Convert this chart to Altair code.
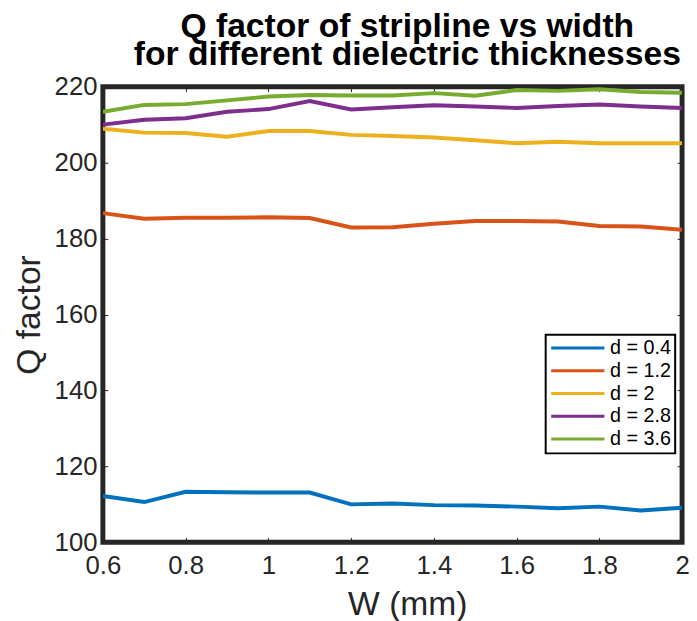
import altair as alt
import pandas as pd

w = [0.6, 0.7, 0.8, 0.9, 1.0, 1.1, 1.2, 1.3, 1.4, 1.5, 1.6, 1.7, 1.8, 1.9, 2.0]
q_d04 = [112.2, 110.6, 113.3, 113.2, 113.1, 113.1, 110.0, 110.2, 109.8, 109.7, 109.4, 109.0, 109.4, 108.4, 109.1]
q_d12 = [186.7, 185.2, 185.5, 185.5, 185.6, 185.4, 182.9, 183.0, 183.9, 184.6, 184.6, 184.5, 183.3, 183.2, 182.3]
q_d20 = [208.9, 207.9, 207.8, 206.8, 208.3, 208.3, 207.3, 207.0, 206.6, 205.9, 205.1, 205.5, 205.1, 205.1, 205.1]
q_d28 = [210.0, 211.3, 211.7, 213.4, 214.1, 216.2, 214.0, 214.6, 215.1, 214.8, 214.4, 214.9, 215.3, 214.8, 214.4]
q_d36 = [213.4, 215.2, 215.4, 216.4, 217.4, 217.8, 217.7, 217.7, 218.3, 217.6, 219.1, 218.9, 219.3, 218.6, 218.4]

labels = ["d = 0.4", "d = 1.2", "d = 2", "d = 2.8", "d = 3.6"]
series = [q_d04, q_d12, q_d20, q_d28, q_d36]
colors = ["#0072BD", "#D95319", "#EDB120", "#7E2F8E", "#77AC30"]
x_ticks = [0.6, 0.8, 1.0, 1.2, 1.4, 1.6, 1.8, 2.0]
y_ticks = [100, 120, 140, 160, 180, 200, 220]

rows = []
for lab, vals in zip(labels, series):
    for xv, yv in zip(w, vals):
        rows.append({"W": xv, "Q": yv, "d": lab})
df = pd.DataFrame(rows)

font = "Liberation Sans"
tc = "#262626"

xscale = alt.Scale(domain=[0.6, 2.0], nice=False, zero=False)
yscale = alt.Scale(domain=[100, 220], nice=False, zero=False)

lines = alt.Chart(df).mark_line(strokeWidth=4, clip=True).encode(
    x=alt.X("W:Q", scale=xscale,
            axis=alt.Axis(values=x_ticks, format="~g", title="W (mm)", orient="bottom", offset=-5,
                          tickSize=5, tickColor=tc, domain=False, grid=False,
                          labelFontSize=26, labelColor=tc, labelFont=font, labelPadding=11,
                          labelFlush=False, labelOverlap=False,
                          titleFontSize=34, titleFont=font, titleColor=tc,
                          titleFontWeight="normal", titlePadding=9, titleX=308)),
    y=alt.Y("Q:Q", scale=yscale,
            axis=alt.Axis(values=y_ticks, title="Q factor", orient="left", offset=-5,
                          tickSize=5, tickColor=tc, domain=False, grid=False,
                          labelFontSize=26, labelColor=tc, labelFont=font, labelPadding=6,
                          labelFlush=False, labelOverlap=False,
                          titleFontSize=34, titleFont=font, titleColor=tc,
                          titleFontWeight="normal", titlePadding=8)),
    color=alt.Color("d:N", scale=alt.Scale(domain=labels, range=colors),
                    legend=alt.Legend(title=None, orient="none", legendX=448, legendY=251,
                                      symbolType="stroke", symbolSize=2900,
                                      symbolStrokeWidth=3, labelFontSize=20,
                                      labelFont=font, labelColor="#000000",
                                      strokeColor="#000000", padding=4,
                                      rowPadding=2, labelOffset=4, clipHeight=19,
                                      fillColor="#ffffff")),
)

ticks2 = alt.Chart(df).mark_line(opacity=0).encode(
    x=alt.X("W:Q", scale=xscale,
            axis=alt.Axis(values=x_ticks, title=None, orient="top", offset=-5,
                          tickSize=5, tickColor=tc, domain=False, grid=False, labels=False)),
    y=alt.Y("Q:Q", scale=yscale,
            axis=alt.Axis(values=y_ticks, title=None, orient="right", offset=-5,
                          tickSize=5, tickColor=tc, domain=False, grid=False, labels=False)),
)

chart = alt.layer(lines, ticks2).resolve_axis(x="independent", y="independent").properties(
    width=586, height=461,
    title=alt.TitleParams(["Q factor of stripline vs width", "for different dielectric thicknesses"],
                          fontSize=34, font=font, fontWeight="bold", color="#000000",
                          anchor="middle", dx=15, lineHeight=28, offset=2),
    autosize=alt.AutoSizeParams(type="none"),
    padding={"left": 96, "top": 76, "right": 7, "bottom": 76},
).configure_view(stroke="#262626", strokeWidth=5).configure_legend(strokeWidth=2)

chart.save("out.html", embed_options={"renderer": "svg", "actions": False})
